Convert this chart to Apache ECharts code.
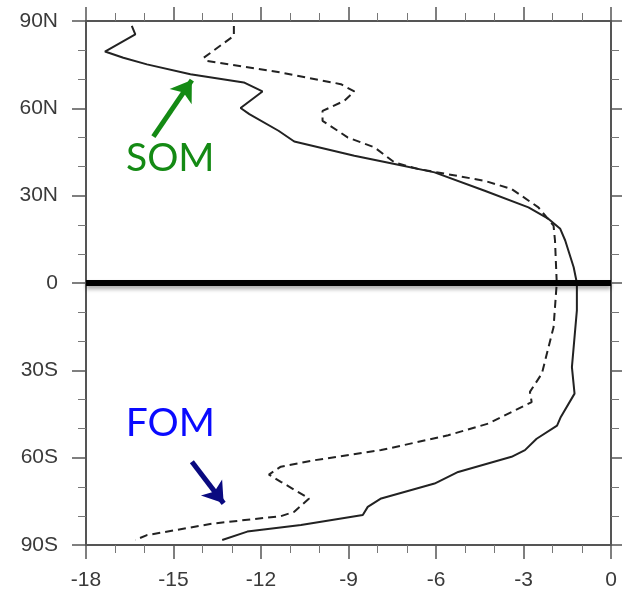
<!DOCTYPE html>
<html>
<head>
<meta charset="utf-8">
<script src="https://cdn.jsdelivr.net/npm/echarts@6/dist/echarts.min.js"></script>
<style>
  html, body { margin: 0; padding: 0; background: #fff; }
  #chart { width: 622px; height: 597px; }
</style>
</head>
<body>
<div id="chart"></div>
<script>
// 纬度剖面 (solid = SOM, dashed = FOM)
var somLat = [88.3, 85.4, 79.5, 77.4, 75.1, 71.7, 68.9, 65.8, 60.1, 58.0, 52.3, 48.6, 43.7, 40.9, 38.0, 31.7, 26.0, 22.0, 18.6, 14.6, 5.4, 0, -9.4, -28.9, -38.0, -46.0, -49.0, -53.5, -57.4, -59.7, -64.9, -68.9, -74.0, -76.9, -79.7, -83.1, -85.4, -88.3];
var somVal = [-16.43, -16.31, -17.35, -16.72, -15.91, -14.42, -12.59, -11.95, -12.70, -12.40, -11.40, -10.86, -8.80, -7.42, -6.05, -4.33, -2.83, -2.14, -1.74, -1.57, -1.28, -1.17, -1.17, -1.34, -1.25, -1.72, -1.85, -2.55, -2.95, -3.41, -5.24, -6.05, -7.88, -8.34, -8.51, -10.63, -12.47, -13.33];

var fomLat = [88.3, 84.9, 77.4, 76.3, 72.3, 68.3, 65.8, 62.6, 59.1, 55.7, 52.3, 50.0, 46.6, 41.4, 39.2, 35.1, 32.3, 26.0, 19.7, 14.6, 0, -15.2, -31.1, -37.4, -40.9, -48.3, -52.3, -57.4, -60.9, -63.1, -65.8, -68.3, -74.0, -78.6, -80.1, -82.6, -86.6, -88.3];
var fomVal = [-12.93, -12.93, -13.96, -13.85, -11.32, -9.26, -8.80, -9.14, -9.89, -9.89, -9.37, -9.03, -8.11, -7.42, -6.62, -4.33, -3.41, -2.49, -1.97, -1.92, -1.86, -1.97, -2.37, -2.78, -2.72, -4.21, -5.58, -7.88, -10.18, -11.32, -11.73, -11.32, -10.35, -10.86, -11.32, -13.62, -15.91, -16.31];

var equator = [[-18, 0], [0, 0]];

// annotation anchors (data coords)
var somText = [-15.11, 42.9];
var fomText = [-15.11, -48.4];
var somArrow = [[-15.69, 50.3], [-14.37, 69.7]];
var fomArrow = [[-14.37, -61.4], [-13.28, -75.7]];

function pairs(vals, lats) {
    var out = [];
    for (var i = 0; i < vals.length; i++) {
        out.push([vals[i], lats[i]]);
    }
    return out;
}

function latLabel(v) {
    if (v === 0) return '0';
    return Math.abs(v) + (v > 0 ? 'N' : 'S');
}

var axisColor = '#555';
var labelStyle = { color: '#3a3a3a', fontSize: 21, fontFamily: 'Liberation Sans, Arial, sans-serif' };

function xAx(pos, showLabel) {
    return {
        type: 'value', position: pos, min: -18, max: 0, interval: 3,
        axisLine: { show: true, onZero: false, lineStyle: { color: axisColor, width: 2 } },
        axisTick: { show: true, inside: false, length: 14, lineStyle: { color: axisColor, width: 1.5 } },
        minorTick: { show: true, splitNumber: 3, length: 8, lineStyle: { color: '#777', width: 1 } },
        splitLine: { show: false },
        axisLabel: Object.assign({ show: showLabel, margin: 25 }, labelStyle)
    };
}

function yAx(pos, showLabel) {
    return {
        type: 'value', position: pos, min: -90, max: 90, interval: 30,
        axisLine: { show: true, onZero: false, lineStyle: { color: axisColor, width: 2 } },
        axisTick: { show: true, inside: false, length: 14, lineStyle: { color: axisColor, width: 1.5 } },
        minorTick: { show: true, splitNumber: 3, length: 8, lineStyle: { color: '#777', width: 1 } },
        splitLine: { show: false },
        axisLabel: Object.assign({ show: showLabel, margin: 28, formatter: latLabel }, labelStyle)
    };
}

function textMark(coord, txt, color) {
    return {
        symbol: 'circle', symbolSize: 0, silent: true,
        label: { show: true, position: 'inside', formatter: txt, color: color, fontSize: 39, fontFamily: 'Lato, sans-serif' },
        data: [{ coord: coord }]
    };
}

function arrowMark(ends, color) {
    return {
        silent: true, symbol: ['none', 'arrow'], symbolSize: 20,
        label: { show: false },
        lineStyle: { color: color, width: 5, type: 'solid' },
        itemStyle: { color: color },
        data: [[{ coord: ends[0] }, { coord: ends[1] }]]
    };
}

var chart = echarts.init(document.getElementById('chart'));
chart.setOption({
    animation: false,
    backgroundColor: '#fff',
    grid: { left: 86, right: 11, top: 21, bottom: 52 },
    xAxis: [xAx('bottom', true), xAx('top', false)],
    yAxis: [yAx('left', true), yAx('right', false)],
    series: [
        {
            name: 'equator', type: 'line', data: equator, symbol: 'none',
            lineStyle: { color: '#000', width: 6, shadowColor: 'rgba(0,0,0,0.35)', shadowBlur: 4, shadowOffsetY: 3 },
            z: 5
        },
        {
            name: 'SOM', type: 'line', data: pairs(somVal, somLat), symbol: 'none',
            lineStyle: { color: '#222', width: 2 },
            markLine: arrowMark(somArrow, '#148a14'),
            markPoint: textMark(somText, 'SOM', '#148a14')
        },
        {
            name: 'FOM', type: 'line', data: pairs(fomVal, fomLat), symbol: 'none',
            lineStyle: { color: '#222', width: 2, type: [8, 5] },
            markLine: arrowMark(fomArrow, '#0a0a80'),
            markPoint: textMark(fomText, 'FOM', '#0a0aff')
        }
    ]
});
</script>
</body>
</html>
